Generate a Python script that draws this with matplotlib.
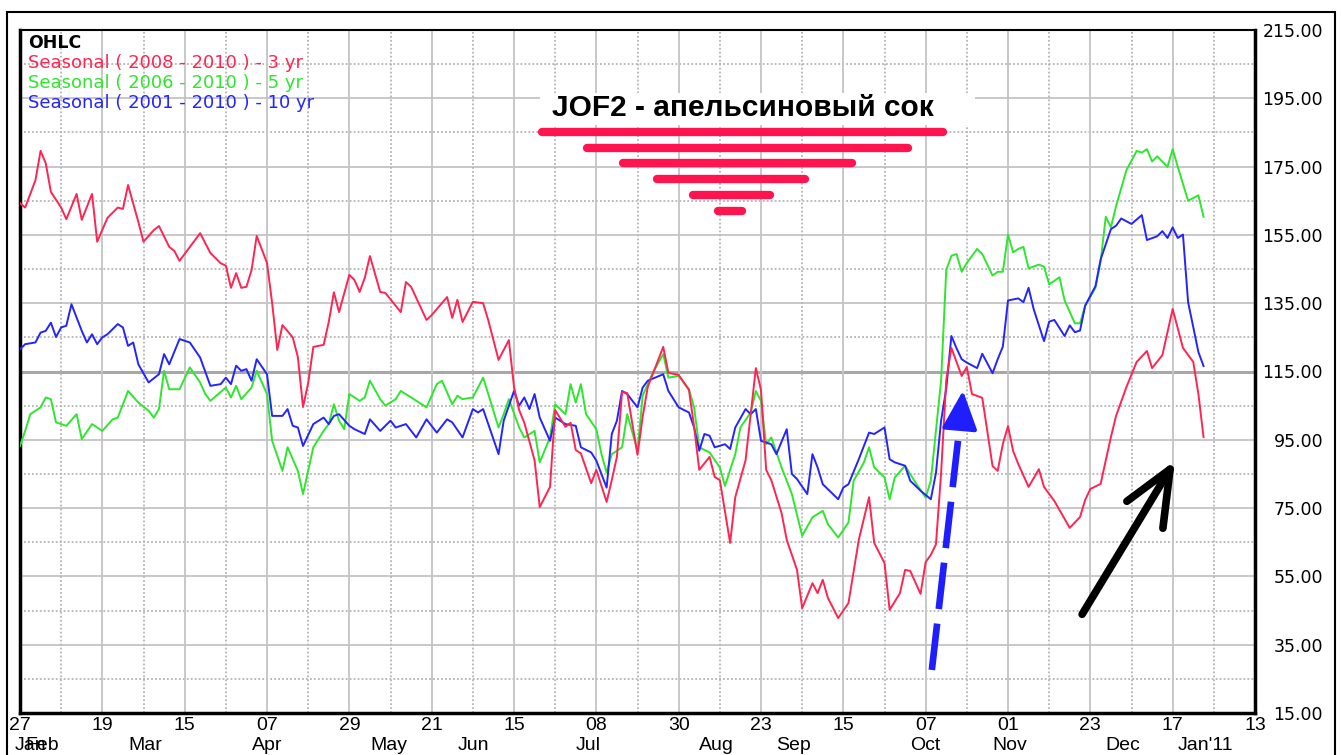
import matplotlib.pyplot as plt
from matplotlib.patches import Rectangle

# x axis: trading days counted from 27 Jan 2010, a labelled tick every 16 days
tick_days = list(range(0, 241, 16))
tick_labels = ["27", "19", "15", "07", "29", "21", "15", "08",
               "30", "23", "15", "07", "01", "23", "17", "13"]
month_days = [-1, 1, 21, 45, 68, 85, 108, 132, 147, 173, 189, 211, 225]
month_labels = ["Jan", "Feb", "Mar", "Apr", "May", "Jun", "Jul",
                "Aug", "Sep", "Oct", "Nov", "Dec", "Jan'11"]
price_ticks = list(range(15, 216, 20))

legend_labels = ["Seasonal ( 2008 - 2010 ) - 3 yr",
                 "Seasonal ( 2006 - 2010 ) - 5 yr",
                 "Seasonal ( 2001 - 2010 ) - 10 yr"]
title = "JOF2 - апельсиновый сок"

# 3 yr seasonal
red_day = [0, 1, 3, 4, 5, 6, 8, 9, 11, 12, 14, 15, 17, 19, 20, 21, 23, 24, 26, 27,
           29, 30, 31, 35, 37, 39, 40, 41, 42, 43, 44, 45, 46, 48, 49, 50, 51, 53, 54, 55,
           56, 57, 59, 60, 61, 62, 64, 65, 66, 67, 68, 70, 71, 74, 75, 76, 79, 80, 83, 84,
           85, 86, 88, 90, 91, 93, 95, 96, 97, 98, 100, 101, 103, 104, 106, 107, 108, 109, 111, 112,
           114, 115, 116, 117, 118, 120, 121, 122, 125, 126, 128, 130, 131, 132, 134, 135, 136, 138, 139, 141,
           143, 144, 145, 146, 148, 149, 151, 152, 154, 155, 156, 157, 159, 161, 163, 165, 166, 168, 169, 171,
           172, 173, 175, 176, 177, 178, 179, 180, 181, 182, 183, 184, 185, 187, 189, 190, 191, 192, 193, 194,
           196, 198, 199, 201, 204, 206, 207, 208, 210, 212, 213, 215, 217, 219, 220, 222, 224, 226, 228, 229,
           230]
red_price = [164.3, 163, 171, 179.6, 176, 167.6, 163, 159.6, 167, 159.4, 167, 153, 160, 163, 162.6, 169.6, 158.8, 153, 156.4, 157.6,
             151.5, 150.3, 147.4, 155.5, 149.7, 146.7, 146, 139.5, 143.8, 139.5, 139.8, 144.7, 154.7, 146.8, 135, 121.3, 128.6, 125, 119.2, 104.6,
             111.6, 122.2, 122.8, 129.5, 138.2, 132.4, 143.3, 141.8, 138.3, 142.4, 148.8, 138.3, 138, 132.4, 141.2, 139.8, 130.1, 131.5, 136.8, 130.7,
             136, 129.5, 135.4, 135, 130, 118.4, 124.2, 110.5, 103.7, 100, 89, 75.3, 81.2, 103.7, 98.8, 100, 92, 91, 82.3, 86.2,
             76.8, 83.2, 90, 109, 108.7, 90.6, 101.7, 110.5, 122.2, 114.6, 114, 109.6, 98.8, 86.2, 90, 84.1, 83.2, 64.8, 78.2, 89,
             116, 109.6, 86.2, 83.2, 73.5, 65.7, 56.9, 45.7, 53, 50.1, 54, 48.7, 42.8, 47.2, 65.7, 78.2, 64.8, 58.9, 45.2, 50.1,
             56.9, 56.6, 49.9, 59.2, 61.3, 64.4, 85.3, 112.5, 121.9, 117.8, 113.7, 116.3, 108.4, 107.3, 87.3, 85.9, 93.8, 99, 91.7, 87.9,
             81.2, 86.4, 81.2, 77.1, 69.2, 72.4, 77.4, 80.6, 82.1, 95.8, 102, 110.4, 117.8, 121, 116, 119.8, 133.3, 121.9, 117.8, 108.4,
             95.8]

# 5 yr seasonal
green_day = [0, 1, 2, 4, 5, 6, 7, 9, 11, 12, 14, 16, 18, 19, 21, 23, 25, 26, 27, 28,
             29, 31, 33, 35, 36, 37, 40, 41, 42, 43, 45, 46, 48, 49, 51, 52, 54, 55, 57, 59,
             60, 61, 62, 63, 64, 66, 67, 68, 70, 71, 73, 74, 76, 79, 81, 82, 84, 85, 86, 88,
             90, 91, 93, 94, 95, 97, 98, 100, 101, 103, 104, 106, 107, 108, 109, 110, 112, 113, 114, 115,
             117, 118, 120, 121, 123, 125, 126, 128, 130, 131, 132, 134, 136, 137, 139, 140, 142, 143, 144, 145,
             146, 148, 150, 152, 154, 156, 157, 159, 161, 162, 164, 165, 166, 168, 169, 170, 172, 174, 176, 177,
             178, 179, 180, 181, 182, 183, 184, 186, 187, 189, 190, 191, 192, 193, 194, 195, 196, 198, 199, 200,
             202, 203, 205, 206, 207, 209, 210, 211, 212, 213, 215, 217, 218, 219, 220, 221, 223, 224, 225, 227,
             229, 230]
green_price = [93.2, 97.6, 102.5, 104.5, 107.4, 106.9, 100.1, 99.1, 102.5, 95.2, 99.6, 97.6, 101, 101.5, 109.3, 105.9, 103.5, 101.5, 104, 115.2,
               109.8, 109.8, 116.2, 111.8, 108.4, 106.4, 110.3, 107.4, 110.8, 106.9, 110.3, 115.2, 108.4, 94.7, 85.9, 92.8, 85.9, 79.1, 92.8, 97.6,
               99.6, 105.4, 100.6, 98.1, 108.4, 106.4, 107.4, 112.3, 106.9, 105, 106.9, 109.3, 107.4, 104.5, 111.3, 112.3, 105.4, 107.9, 106.9, 107.4,
               113.2, 108.4, 98.6, 102.5, 106.9, 98.6, 95.7, 97.6, 88.4, 95.7, 105.4, 102.5, 111.3, 105.9, 111.3, 102.5, 98.1, 90.8, 85.4, 90.8,
               92.8, 102.5, 91.8, 107.9, 114.7, 120.1, 113.2, 113.7, 109.8, 104.5, 92.8, 91.3, 86.9, 81.5, 90.8, 98.6, 103, 109.3, 106.4, 93.7,
               95.7, 86.9, 79.1, 66.9, 72.3, 74.2, 70.3, 66.4, 70.8, 83, 88.4, 92.8, 86.9, 84, 77.6, 84, 87.4, 82.5, 78.1, 83,
               97.6, 112.4, 144.7, 148.9, 149.4, 144.2, 146.8, 150.9, 149.4, 143.1, 144.2, 144.2, 155.1, 149.9, 150.9, 151.5, 145.2, 146.3, 145.7, 140.5,
               142.6, 135.8, 129.1, 129.1, 134.3, 139.5, 147.3, 160.3, 157.2, 163.4, 173.9, 179.6, 179.1, 180.1, 176.5, 178, 174.9, 180.1, 174.9, 165,
               166.6, 160.3]

# 10 yr seasonal
blue_day = [0, 1, 3, 4, 5, 6, 7, 8, 9, 10, 12, 13, 14, 15, 16, 17, 19, 20, 21, 22,
            23, 25, 27, 28, 29, 31, 33, 35, 37, 39, 40, 41, 42, 43, 44, 45, 46, 48, 49, 51,
            52, 53, 54, 55, 57, 59, 60, 61, 62, 64, 65, 67, 68, 70, 72, 73, 75, 77, 79, 81,
            83, 84, 86, 88, 89, 90, 91, 93, 94, 96, 97, 98, 99, 100, 101, 103, 104, 106, 108, 109,
            111, 112, 114, 115, 116, 117, 118, 120, 121, 122, 125, 126, 128, 130, 131, 132, 133, 134, 135, 137,
            138, 139, 141, 142, 143, 144, 146, 147, 149, 150, 151, 153, 154, 155, 156, 159, 160, 161, 163, 165,
            166, 168, 169, 170, 172, 173, 175, 177, 178, 179, 180, 181, 182, 183, 184, 186, 187, 189, 190, 191,
            192, 194, 195, 196, 197, 199, 200, 201, 203, 204, 205, 206, 207, 209, 210, 212, 213, 214, 216,
            218, 219, 221, 222, 223, 224, 225, 226, 227, 229, 230]
blue_price = [121.5, 123, 123.5, 126.4, 126.9, 129.3, 125.1, 127.9, 128.4, 134.7, 126.9, 123.5, 125.9, 123, 125, 125.9, 128.9, 127.9, 122.5, 123.5,
              117.1, 111.8, 114.2, 120.1, 117.1, 124.5, 123.5, 119.1, 110.8, 111.3, 113.2, 111.3, 116.7, 115.2, 115.7, 112.3, 118.6, 114.2, 102, 102,
              104, 99.1, 98.6, 93.2, 99.6, 101.5, 99.6, 102, 102.5, 99.1, 98.1, 96.7, 101, 97.6, 100.6, 98.6, 99.6, 95.7, 101, 97.1,
              101, 100.1, 95.7, 104, 103, 104, 99.6, 90.8, 100.6, 109.3, 105, 107.4, 104, 108.4, 101.5, 94.7, 101.5, 99.6, 99.1, 92.8,
              91.3, 88.9, 81, 96.7, 100.6, 109.3, 108.4, 104.5, 110.3, 112.3, 114.2, 109.3, 104.5, 103, 98.6, 91.8, 96.7, 96.2, 92.8, 93.7,
              92.3, 98.6, 104, 102.5, 104, 94.7, 93.7, 90.8, 98.1, 85, 83.5, 79.1, 90.8, 86.9, 82, 77.6, 81, 82, 89.3, 97.1,
              96.7, 98.6, 89.3, 88.4, 87.4, 83, 80.1, 77.6, 85.3, 100.6, 110, 125.4, 121.8, 118.6, 117.6, 116, 120.2, 114.5, 118.6, 122.3,
              135.8, 136.4, 135.3, 139.5, 133.2, 123.9, 129.6, 130.1, 125.4, 128.5, 126.5, 127, 134.3, 140, 147.8, 156.7, 157.7, 159.8, 158.2,
              160.8, 153.5, 154.6, 156.1, 154.1, 157.2, 154.1, 155.1, 135.3, 120.7, 116.6]

RED = "#ff2452"
GREEN = "#2ee62e"
BLUE = "#2424ff"
MARK_RED = "#ff1450"
ARROW_BLUE = "#1e1eff"

fig = plt.figure(figsize=(13.41, 7.55), dpi=100)
ax = fig.add_axes([20 / 1341, 1 - 713 / 755, 1235 / 1341, 683 / 755])
ax.set_xlim(0, 240)
ax.set_ylim(15, 215)

# grid: solid lines on ticks, dotted in between
for p in price_ticks[1:-1]:
    ax.axhline(p, color="#a8a8a8" if p == 115 else "#c4c4c4",
               lw=2.2 if p == 115 else 1.3, zorder=1)
for p in range(25, 215, 20):
    ax.axhline(p, color="#b4b4b4", lw=1.3, ls=(0, (1, 1.2)), zorder=1)
for d in tick_days[1:-1]:
    ax.axvline(d, color="#c4c4c4", lw=1.3, zorder=1)
for d in range(8, 240, 16):
    ax.axvline(d, color="#b4b4b4", lw=1.3, ls=(0, (1, 1.2)), zorder=1)

ax.plot(green_day, green_price, color=GREEN, lw=1.4, zorder=5)
ax.plot(blue_day, blue_price, color=BLUE, lw=1.4, zorder=5)
ax.plot(red_day, red_price, color=RED, lw=1.4, zorder=5)

# legend block
ax.text(0.0065, 0.981, "OHLC", transform=ax.transAxes, fontsize=12.5,
        color="black", va="center", fontweight="bold")
for i, (lab, c) in enumerate(zip(legend_labels, [RED, GREEN, BLUE])):
    ax.text(0.0065, 0.952 - i * 0.0295, lab, transform=ax.transAxes,
            fontsize=13, color=c, va="center")

# title in a white box, with the red "pyramid" strokes below
ax.add_patch(Rectangle((101.0, 187.2), 84.6, 9.4, facecolor="white",
                       edgecolor="none", zorder=3))
ax.text(140.5, 192.3, title, ha="center", va="center", fontsize=21.5,
        fontweight="bold", family="Liberation Sans", zorder=7)
pyramid = [(101.4, 179.4, 185.1), (110.2, 172.6, 180.4), (117.2, 161.7, 176.1),
           (123.8, 152.5, 171.4), (130.8, 145.7, 166.7), (135.6, 140.3, 162.0)]
for x0, x1, y in pyramid:
    ax.plot([x0, x1], [y, y], color=MARK_RED, lw=6, solid_capstyle="round", zorder=6)

# hand-drawn arrows
ax.plot([177.2, 182.6], [27.6, 99], color=ARROW_BLUE, lw=4.8,
        ls=(0, (7, 2.2)), zorder=8)
ax.annotate("", xy=(183.3, 110.2), xytext=(182.6, 98),
            arrowprops=dict(arrowstyle="-|>,head_length=1.2,head_width=0.55",
                            color=ARROW_BLUE, lw=3, mutation_scale=20), zorder=8)
ax.plot([206.4, 223.5], [43.9, 86.4], color="black", lw=5.5,
        solid_capstyle="round", zorder=8)
ax.plot([215.1, 223.5, 222.1], [77.0, 86.4, 69.1], color="black", lw=5.5,
        solid_capstyle="round", solid_joinstyle="round", zorder=8)

# axes styling
for side in ["left", "bottom", "right"]:
    ax.spines[side].set_linewidth(2.5)
ax.spines["top"].set_linewidth(1.5)

ax.yaxis.tick_right()
ax.set_yticks(price_ticks)
ax.set_yticklabels([f"{p:.2f}" for p in price_ticks])
for lbl in ax.get_yticklabels():
    lbl.set_horizontalalignment("right")
ax.tick_params(axis="y", length=0, pad=49, labelsize=12.5)

ax.set_xticks(tick_days)
ax.set_xticklabels(tick_labels, family="Liberation Sans")
ax.tick_params(axis="x", length=0, pad=3, labelsize=14)
for d, m in zip(month_days, month_labels):
    ax.text(d, -0.047, m, transform=ax.get_xaxis_transform(), ha="left",
            va="center", fontsize=14, family="Liberation Sans", clip_on=False)

# outer frame of the picture
fig.add_artist(Rectangle((7 / 1341, -0.01), 1328 / 1341, 1.01 - 12 / 755,
                         transform=fig.transFigure, fill=False,
                         edgecolor="black", lw=1.5))

fig.savefig("out.png", dpi=100)
